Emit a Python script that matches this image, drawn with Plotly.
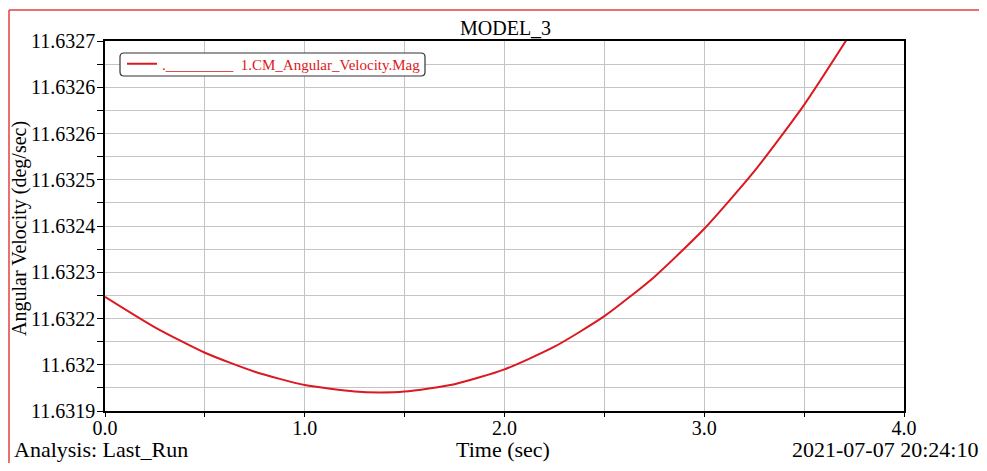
import plotly.graph_objects as go

# ---- data ----
time_sec = [0.0, 0.25, 0.5, 0.75, 1.0, 1.25, 1.375, 1.5, 1.75, 2.0, 2.25, 2.5, 2.75, 3.0, 3.25, 3.5, 3.75]
ang_vel = [11.632147, 11.632081, 11.632026, 11.631985, 11.631956, 11.631942, 11.631940, 11.631942,
           11.631958, 11.631990, 11.632039, 11.632105, 11.632190, 11.632294, 11.632418, 11.632562, 11.632728]

y_tick_labels = ["11.6319", "11.632", "11.6322", "11.6323", "11.6324", "11.6325", "11.6326", "11.6326", "11.6327"]
x_tick_labels = ["0.0", "1.0", "2.0", "3.0", "4.0"]
series_name = "._________\u00a0\u00a01.CM_Angular_Velocity.Mag"

# ---- layout geometry (pixels, page has an 8px body margin) ----
OFF = 8
W, H = 987 - 2 * OFF, 471 - 2 * OFF
ML, MT = 105 - OFF, 41 - OFF
MR = W - (904 - OFF)
MB = H - (411 - OFF)
PW, PH = W - ML - MR, H - MT - MB

def px(x):  # reference-page x -> paper
    return (x - OFF - ML) / PW

def py(y):  # reference-page y -> paper
    return (H - MB - (y - OFF)) / PH

y0, y1 = 11.6319, 11.6327
y_tickvals = [round(y0 + k * 0.00005, 6) for k in range(17)]
y_ticktext = [y_tick_labels[k // 2] if k % 2 == 0 else "" for k in range(17)]
x_tickvals = [k * 0.5 for k in range(9)]
x_ticktext = [x_tick_labels[k // 2] if k % 2 == 0 else "" for k in range(9)]

RED = "#dc1820"
FONT = "Liberation Serif"

fig = go.Figure()
fig.add_trace(go.Scatter(
    x=time_sec, y=ang_vel, mode="lines", name=series_name,
    line=dict(color=RED, width=2, shape="spline", smoothing=0.6),
    showlegend=True,
))

# rounded legend box
bx0, bx1, by0, by1, r = 120, 425, 53, 76, 4
path = (f"M {px(bx0 + r)},{py(by0)} L {px(bx1 - r)},{py(by0)} "
        f"Q {px(bx1)},{py(by0)} {px(bx1)},{py(by0 + r)} L {px(bx1)},{py(by1 - r)} "
        f"Q {px(bx1)},{py(by1)} {px(bx1 - r)},{py(by1)} L {px(bx0 + r)},{py(by1)} "
        f"Q {px(bx0)},{py(by1)} {px(bx0)},{py(by1 - r)} L {px(bx0)},{py(by0 + r)} "
        f"Q {px(bx0)},{py(by0)} {px(bx0 + r)},{py(by0)} Z")

BORDER = dict(color="#e04040", width=1.5)
shapes = [
    dict(type="path", xref="paper", yref="paper", path=path,
         fillcolor="white", line=dict(color="#333333", width=1.2), layer="above"),
    dict(type="line", xref="paper", yref="paper", x0=px(9), x1=px(990), y0=py(10), y1=py(10),
         line=BORDER, layer="below"),
    dict(type="line", xref="paper", yref="paper", x0=px(9), x1=px(9), y0=py(10), y1=py(480),
         line=BORDER, layer="below"),
]

annotations = [
    dict(text="MODEL_3", x=px(505), y=py(28), xref="paper", yref="paper",
         xanchor="center", yanchor="middle", showarrow=False, font=dict(size=20, color="black", family=FONT)),
    dict(text="Analysis: Last_Run", x=px(12), y=py(449), xref="paper", yref="paper",
         xanchor="left", yanchor="middle", showarrow=False, font=dict(size=22, color="black", family=FONT)),
    dict(text="Time (sec)", x=px(503), y=py(449), xref="paper", yref="paper",
         xanchor="center", yanchor="middle", showarrow=False, font=dict(size=22, color="black", family=FONT)),
    dict(text="2021-07-07 20:24:10", x=px(980), y=py(449), xref="paper", yref="paper",
         xanchor="right", yanchor="middle", showarrow=False, font=dict(size=22, color="black", family=FONT)),
    dict(text="Angular Velocity (deg/sec)", x=px(20), y=py(229), xref="paper", yref="paper",
         xanchor="center", yanchor="middle", textangle=-90, showarrow=False,
         font=dict(size=20, color="black", family=FONT)),
]

fig.update_layout(
    width=W, height=H,
    margin=dict(l=ML, r=MR, t=MT, b=MB, pad=0),
    paper_bgcolor="white", plot_bgcolor="white",
    font=dict(family=FONT, size=20, color="black"),
    shapes=shapes, annotations=annotations,
    legend=dict(x=px(122), y=py(47.5), xanchor="left", yanchor="top",
                bgcolor="rgba(0,0,0,0)", borderwidth=0,
                font=dict(size=15, color=RED, family=FONT)),
    xaxis=dict(range=[0, 4], tickmode="array", tickvals=x_tickvals, ticktext=x_ticktext,
               showgrid=True, gridcolor="#c4c4c4", gridwidth=1, zeroline=False,
               showline=True, linecolor="black", linewidth=1.5, mirror=True,
               ticks="outside", ticklen=4, tickcolor="black", tickwidth=1.2,
               ticklabelstandoff=-6, tickfont=dict(size=20, family=FONT)),
    yaxis=dict(range=[y0, y1], tickmode="array", tickvals=y_tickvals, ticktext=y_ticktext,
               showgrid=True, gridcolor="#c4c4c4", gridwidth=1, zeroline=False,
               showline=True, linecolor="black", linewidth=1.5, mirror=True,
               ticks="outside", ticklen=6, tickcolor="black", tickwidth=1.2,
               ticklabelstandoff=-2, tickfont=dict(size=20, family=FONT)),
)

fig.write_html("out.html")
